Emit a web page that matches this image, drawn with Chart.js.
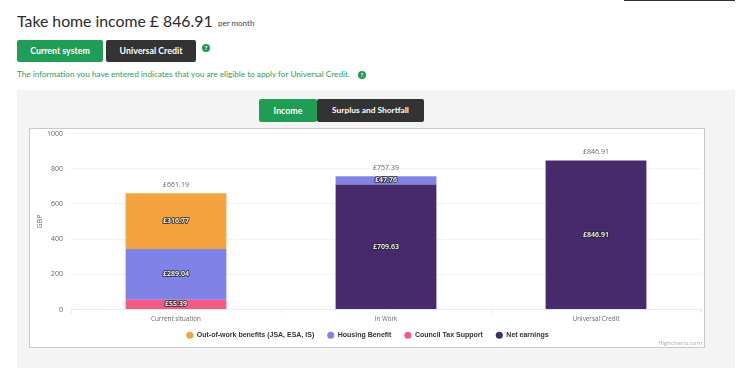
<!DOCTYPE html>
<html>
<head>
<meta charset="utf-8">
<title>Take home income</title>
<script src="https://cdn.jsdelivr.net/npm/chart.js@4"></script>
<style>
    html, body { margin: 0; padding: 0; background: #fff; }
    body { width: 750px; height: 380px; position: relative; overflow: hidden; font-family: Lato, sans-serif; filter: blur(0.4px); }
    .abs { position: absolute; white-space: nowrap; }
    .topbar { left: 624px; top: 0; width: 111px; height: 1px; background: #333; }
    h1 { margin: 0; left: 17px; top: 9px; font-size: 15.8px; line-height: 24px; font-weight: 400; color: #2a2a2a; }
    .per { left: 218px; top: 18px; font-size: 8px; color: #444; }
    .btn { color: #fff; font-weight: 700; font-size: 8.8px; text-align: center; border-radius: 2px; box-sizing: border-box; }
    .green { background: #1f9d55; }
    .dark { background: #333; }
    .note { left: 17px; top: 69px; font-size: 8.2px; color: #2a9d5c; }
    .help { width: 8px; height: 8px; border-radius: 50%; background: #1f9d55; color: #fff; font-size: 6px; font-weight: 700; line-height: 8px; text-align: center; }
    .panel { left: 17px; top: 90px; width: 718px; height: 278px; background: #f4f4f4; }
    .box { left: 29px; top: 128px; width: 676px; height: 220px; background: #fff; border: 1px solid #c8c8c8; box-sizing: border-box; }
    .box canvas { display: block; }
</style>
</head>
<body>
    <div class="abs topbar"></div>
    <h1 class="abs">Take home income £ 846.91</h1>
    <div class="abs per">per month</div>
    <div class="abs btn green" style="left:17px;top:40px;width:86px;height:22px;line-height:22px">Current system</div>
    <div class="abs btn dark" style="left:106px;top:40px;width:90px;height:22px;line-height:22px">Universal Credit</div>
    <div class="abs help" style="left:202px;top:44px">?</div>
    <div class="abs note">The information you have entered indicates that you are eligible to apply for Universal Credit.</div>
    <div class="abs help" style="left:358px;top:71px">?</div>
    <div class="abs panel"></div>
    <div class="abs btn green" style="left:259px;top:99px;width:58px;height:23px;line-height:23px">Income</div>
    <div class="abs btn dark" style="left:317px;top:99px;width:107px;height:23px;line-height:23px;font-size:8.4px">Surplus and Shortfall</div>
    <div class="abs box"><canvas id="grafico" width="674" height="218"></canvas></div>

<script>
    const categorias = ["Current situation", "In Work", "Universal Credit"];
    const netEarnings = [null, 709.63, 846.91];
    const councilTax = [55.39, null, null];
    const housingBenefit = [289.04, 47.76, null];
    const outOfWork = [316.77, null, null];
    const totales = ["£661.19", "£757.39", "£846.91"];
    const ticksY = [0, 200, 400, 600, 800, 1000];

    const FONT = "'Open Sans', sans-serif";

    // etiquetas dentro de las barras y totales encima de cada pila
    const etiquetasBarras = {
        id: "etiquetasBarras",
        afterLayout(chart) {
            // la leyenda va mas arriba: el padding grande separa los items pero baja la fila
            chart.legend.top -= 8.7;
            chart.legend.bottom -= 8.7;
            chart.legend.left += 2;
            chart.legend.right += 2;
        },
        afterDatasetsDraw(chart) {
            const ctx = chart.ctx;
            ctx.save();
            ctx.textAlign = "center";
            ctx.textBaseline = "middle";
            chart.data.datasets.forEach((ds, i) => {
                chart.getDatasetMeta(i).data.forEach((barra, j) => {
                    if (ds.data[j] == null) return;
                    const texto = "£" + ds.data[j].toFixed(2);
                    const y = (barra.y + barra.base) / 2;
                    ctx.font = "600 7px " + FONT;
                    ctx.lineJoin = "round";
                    ctx.lineWidth = 2;
                    ctx.strokeStyle = "rgba(40,40,40,.75)";
                    ctx.strokeText(texto, barra.x, y);
                    ctx.fillStyle = "#fff";
                    ctx.fillText(texto, barra.x, y);
                });
            });
            totales.forEach((texto, j) => {
                const x = chart.scales.x.getPixelForValue(j);
                const suma = chart.data.datasets.reduce((s, ds) => s + (ds.data[j] || 0), 0);
                ctx.font = "7px " + FONT;
                ctx.fillStyle = "#666";
                ctx.fillText(texto, x, chart.scales.y.getPixelForValue(suma) - 8);
            });
            ctx.font = "6px " + FONT;
            ctx.fillStyle = "#aaa";
            ctx.textAlign = "right";
            ctx.fillText("Highcharts.com", 672, 214);
            ctx.restore();
        }
    };

    const serie = (label, data, color) => ({
        label, data,
        backgroundColor: color,
        borderWidth: 0,
        barPercentage: 0.48,
        categoryPercentage: 1
    });

    new Chart(document.getElementById("grafico").getContext("2d"), {
        type: "bar",
        data: {
            labels: categorias,
            datasets: [
                serie("Net earnings", netEarnings, "#472a6b"),
                serie("Council Tax Support", councilTax, "#f45b84"),
                serie("Housing Benefit", housingBenefit, "#7f83e6"),
                serie("Out-of-work benefits (JSA, ESA, IS)", outOfWork, "#f4a340")
            ]
        },
        plugins: [etiquetasBarras],
        options: {
            responsive: false,
            animation: false,
            layout: { autoPadding: false, padding: { top: 4.5, right: 3, left: 0, bottom: -10.5 } },
            plugins: {
                tooltip: { enabled: false },
                legend: {
                    position: "bottom",
                    reverse: true,
                    onClick: null,
                    labels: {
                        usePointStyle: true,
                        pointStyle: "circle",
                        boxWidth: 7,
                        boxHeight: 5,
                        padding: 13,
                        color: "#333",
                        font: { family: "'Liberation Sans', sans-serif", size: 7, weight: "bold" }
                    }
                }
            },
            scales: {
                x: {
                    stacked: true,
                    afterFit: s => { s.height = 18; },
                    grid: { drawOnChartArea: false, color: "#e6e9f5", tickLength: 4 },
                    border: { color: "#e6e9f5" },
                    ticks: { color: "#666", padding: 2, font: { family: FONT, size: 6.3 } }
                },
                y: {
                    stacked: true,
                    min: 0,
                    max: 1000,
                    // sin margen extra arriba y abajo para que el eje ocupe todo el alto
                    afterFit: s => { s.width = 41; s.paddingTop = 0; s.paddingBottom = 0; },
                    afterBuildTicks: s => { s.ticks = ticksY.map(value => ({ value })); },
                    grid: { color: "#f1f3f8", drawTicks: false },
                    border: { display: false },
                    title: { display: true, text: "GBP", color: "#666", padding: { top: 6, bottom: 0 }, font: { family: FONT, size: 7 } },
                    ticks: { color: "#666", padding: 8, font: { family: FONT, size: 7 }, callback: v => String(v) }
                }
            }
        }
    });
</script>
</body>
</html>
